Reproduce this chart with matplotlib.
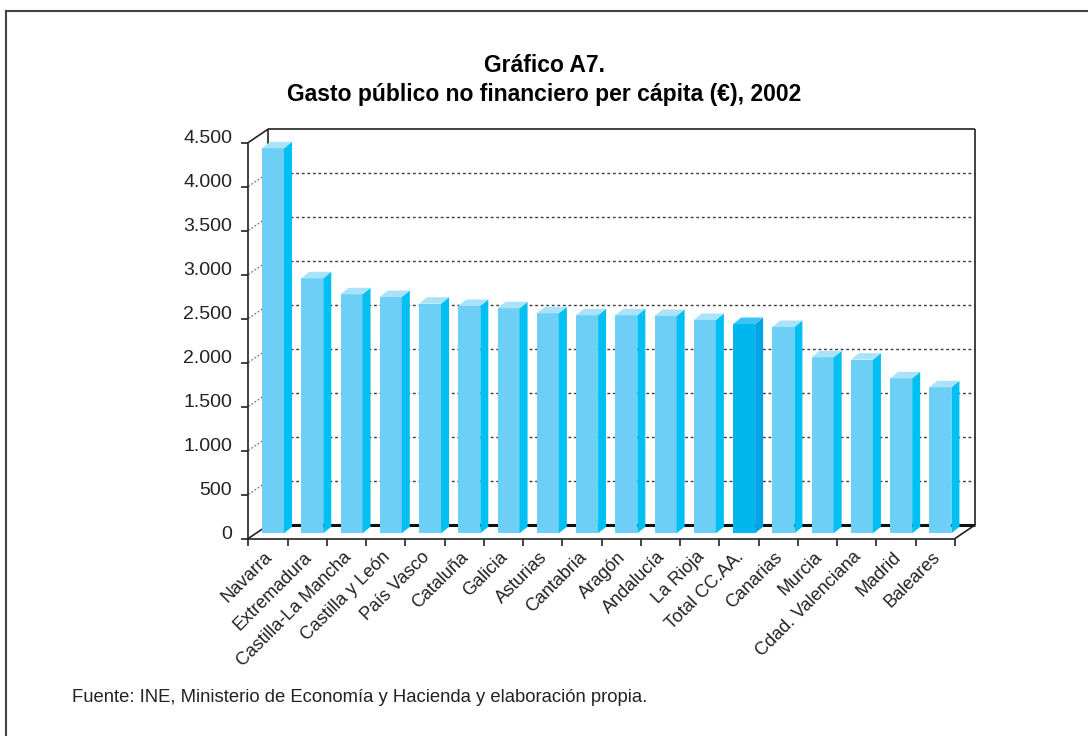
import matplotlib
matplotlib.use("Agg")
import matplotlib.pyplot as plt
from matplotlib.patches import Polygon
from matplotlib.lines import Line2D

# ---------------- data ----------------
categories = ["Navarra", "Extremadura", "Castilla-La Mancha", "Castilla y León",
              "País Vasco", "Cataluña", "Galicia", "Asturias", "Cantabria",
              "Aragón", "Andalucía", "La Rioja", "Total CC.AA.", "Canarias",
              "Murcia", "Cdad. Valenciana", "Madrid", "Baleares"]
values = [4375, 2898, 2716, 2685, 2609, 2583, 2557, 2500, 2477,
          2477, 2469, 2424, 2378, 2344, 2000, 1973, 1761, 1659]
highlight = "Total CC.AA."
yticks = [0, 500, 1000, 1500, 2000, 2500, 3000, 3500, 4000, 4500]
ytick_labels = ["0", "500", "1.000", "1.500", "2.000", "2.500",
                "3.000", "3.500", "4.000", "4.500"]
title_lines = ["Gráfico A7.", "Gasto público no financiero per cápita (€), 2002"]
source = "Fuente: INE, Ministerio de Economía y Hacienda y elaboración propia."

# ---------------- figure ----------------
W, H = 1088, 736
fig = plt.figure(figsize=(W / 100, H / 100), dpi=100)
fig.patch.set_facecolor("white")

# axes = front plane of the pseudo-3D box (pixel geometry)
ax_l, ax_r, ax_b, ax_t = 248.3, 955.0, 538.5, 142.5
ax = fig.add_axes([ax_l / W, (H - ax_b) / H, (ax_r - ax_l) / W, (ax_b - ax_t) / H])
n = len(categories)
ax.set_xlim(-0.5, n - 0.5)
ax.set_ylim(0, 4500)
ax.set_facecolor("none")

ppx = (ax_r - ax_l) / n          # pixels per x unit
upy = 4500 / (ax_b - ax_t)       # y units per pixel

def dxu(px):
    return px / ppx

def dyu(px):
    return px * upy

# depth offsets
BX, BY = dxu(20), dyu(13.5)      # back wall
SX, SY = dxu(7.7), dyu(5.2)      # bar plane
TX, TY = dxu(8), dyu(6.5)        # bar depth
FL = dxu(13.7) - 0.5             # bar front-face left offset from category centre
BW = dxu(22)                     # bar front width

grid_col = "#3a3a3a"
line_kw = dict(clip_on=False, solid_capstyle="butt")

# back wall frame
x0, x1 = -0.5, n - 0.5
ax.plot([x0 + BX, x0 + BX], [BY, 4500 + BY], color="#222222", lw=1.2, zorder=1, **line_kw)
ax.plot([x0 + BX, x1 + BX], [4500 + BY, 4500 + BY], color="#222222", lw=1.2, zorder=1, **line_kw)
ax.plot([x1 + BX, x1 + BX], [BY, 4500 + BY], color="#222222", lw=1.2, zorder=1, **line_kw)
# back floor line
ax.plot([x0 + BX, x1 + BX], [BY, BY], color="#111111", lw=2.2, zorder=1, **line_kw)
# left wall top / bottom, floor right edge
ax.plot([x0, x0 + BX], [4500, 4500 + BY], color="#222222", lw=1.2, zorder=1, **line_kw)
ax.plot([x0, x0 + BX], [0, BY], color="#222222", lw=1.2, zorder=1, **line_kw)
ax.plot([x1, x1 + BX], [0, BY], color="#222222", lw=1.2, zorder=1, **line_kw)

# gridlines
for v in yticks[1:-1]:
    ax.plot([x0 + BX, x1 + BX], [v + BY, v + BY], color=grid_col, lw=1.0,
            ls=(0, (2, 2)), zorder=1, clip_on=False)
    ax.plot([x0, x0 + BX], [v, v + BY], color="#777777", lw=0.9,
            ls=(0, (1.5, 1.5)), zorder=1, clip_on=False)

# bars
for i, (c, v) in enumerate(zip(categories, values)):
    if c == highlight:
        front, side, top = "#00B6EF", "#00A3E4", "#3CC4F2"
    else:
        front, side, top = "#6DCFF6", "#00BFF3", "#A9E3FA"
    xl = i + FL
    xr = xl + BW
    b = SY
    ax.bar(xl, v, width=BW, bottom=b, align="edge", color=front,
           linewidth=0, zorder=3, clip_on=False)
    ax.add_patch(Polygon([(xr, b), (xr, b + v), (xr + TX, b + v + TY), (xr + TX, b + TY)],
                         closed=True, facecolor=side, edgecolor="none", zorder=3, clip_on=False))
    ax.add_patch(Polygon([(xl, b + v), (xr, b + v), (xr + TX, b + v + TY), (xl + TX, b + v + TY)],
                         closed=True, facecolor=top, edgecolor="none", zorder=3, clip_on=False))

# spines (front plane)
for s in ["top", "right"]:
    ax.spines[s].set_visible(False)
ax.spines["left"].set_color("#222222")
ax.spines["left"].set_linewidth(1.2)
ax.spines["bottom"].set_color("#222222")
ax.spines["bottom"].set_linewidth(1.2)
ax.spines["left"].set_zorder(4)
ax.spines["bottom"].set_zorder(4)

font = "Liberation Sans"
ax.set_yticks(yticks)
ax.set_yticklabels([])
ax.tick_params(axis="y", direction="out", length=5.2, width=1.2, color="#222222")
for v, lab in zip(yticks, ytick_labels):
    ax.text(-0.5 - dxu(16), v - dyu(0.5), lab, ha="right", va="baseline",
            fontsize=14, family=font, color="#222222")

ax.set_xticks([i - 0.5 for i in range(n + 1)])
ax.set_xticklabels([])
ax.tick_params(axis="x", direction="out", length=5.2, width=1.2, color="#222222")
for i, c in enumerate(categories):
    ax.text(i + dxu(2), -dyu(16), c, rotation=45, rotation_mode="anchor",
            ha="right", va="center", fontsize=13, family=font, color="#222222")

# title
fig.text(544 / W, 1 - 66 / H, title_lines[0], ha="center", va="center",
         fontsize=16.5, fontweight="bold", family=["Liberation Sans Narrow", "Liberation Sans"])
fig.text(544 / W, 1 - 94 / H, title_lines[1], ha="center", va="center",
         fontsize=16.5, fontweight="bold", family=["Liberation Sans Narrow", "Liberation Sans"])

# source
fig.text(72 / W, 1 - 698 / H, source, ha="left", va="center",
         fontsize=13.3, family=font, color="#222222")

# outer frame (top and left only visible)
fig.add_artist(Line2D([6 / W, 1.0], [1 - 10.5 / H, 1 - 10.5 / H], color="#444444", lw=1.5,
                      transform=fig.transFigure))
fig.add_artist(Line2D([6 / W, 6 / W], [0.0, 1 - 10.5 / H], color="#444444", lw=1.5,
                      transform=fig.transFigure))

fig.savefig("out.png", dpi=100)
